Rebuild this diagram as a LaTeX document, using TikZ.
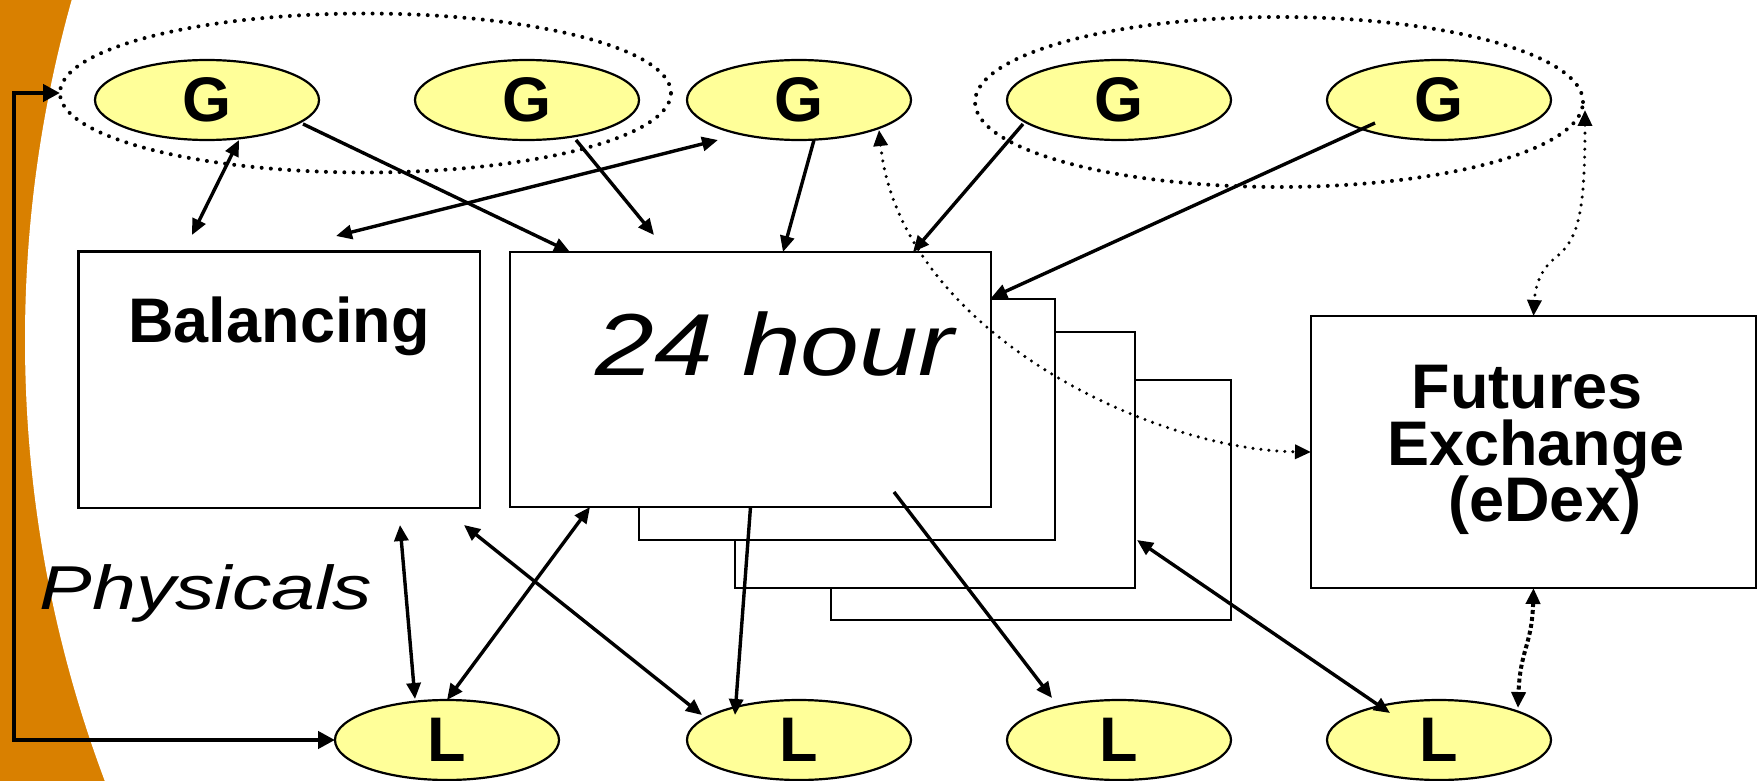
\documentclass[tikz,border=0pt]{standalone}
\usepackage{fontspec}
\setmainfont{Liberation Sans}
\usepackage{graphicx}
\usetikzlibrary{shapes.geometric,arrows.meta,calc}
\definecolor{bandorange}{RGB}{217,128,0}
\definecolor{nodeyellow}{RGB}{255,255,153}
\begin{document}
\begin{tikzpicture}[x=0.5pt,y=-0.5pt,
  gl/.style={ellipse, draw=black, line width=1.1pt, fill=nodeyellow, minimum width=112pt, minimum height=40pt, inner sep=0pt, outer sep=0pt, font=\fontsize{31.5}{36}\selectfont\bfseries},
  grp/.style={ellipse, draw=black, line width=2pt, dash pattern=on 0pt off 4.6pt, line cap=round, inner sep=0pt, outer sep=0pt},
  panel/.style={rectangle, draw=black, line width=1.2pt, fill=white, inner sep=0pt, outer sep=0pt},
  flow/.style={line width=1.7pt, -{Triangle[length=8pt,width=7pt]}},
  both/.style={line width=1.7pt, {Triangle[length=8pt,width=7pt]}-{Triangle[length=8pt,width=7pt]}},
  dotlink/.style={line width=1.7pt, dash pattern=on 0pt off 4pt, line cap=round, {Triangle[length=8pt,width=7pt]}-{Triangle[length=8pt,width=7pt]}},
  densedot/.style={line width=2pt, dash pattern=on 2pt off 1.5pt, {Triangle[length=8pt,width=7pt]}-{Triangle[length=8pt,width=7pt]}},
  bigarrow/.style={line width=2.3pt, {Triangle[length=8.5pt,width=8.5pt]}-{Triangle[length=8.5pt,width=8.5pt]}},
  boldtext/.style={anchor=base, font=\fontsize{31.5}{36}\selectfont\bfseries, inner sep=0pt}
]
\useasboundingbox (0,0) rectangle (1758,781);
% background band
\fill[bandorange] (0,0) rectangle (200,781);
\fill[white] (1278,340) circle[radius=626.5pt];

% group ellipses
\node[grp, minimum width=305.5pt, minimum height=79.5pt] (E1) at (365.5,93) {};
\node[grp, minimum width=304pt, minimum height=85pt] (E2) at (1279,102) {};

% stacked market boxes
\node[panel, minimum width=200pt, minimum height=120pt] (B4) at (1031,500) {};
\node[panel, minimum width=200pt, minimum height=128pt] (B3) at (935,460) {};
\node[panel, minimum width=208pt, minimum height=120.5pt] (B2) at (847,419.5) {};
\node[panel, minimum width=240.5pt, minimum height=127.5pt] (H) at (750.5,379.5) {};
\node[panel, minimum width=200.75pt, minimum height=128.25pt] (Bal) at (279.25,379.75) {};
\node[panel, minimum width=222.5pt, minimum height=136pt] (F) at (1533.5,452) {};

% texts in boxes
\node[boldtext] (baltext) at (279,343) {Balancing};
\node[anchor=base, font=\fontsize{44}{50}\selectfont\itshape, inner sep=0pt] (htext) at (774.5,375) {\scalebox{1.2}[1]{24 hour}};
\node[anchor=base, align=center, inner sep=0pt, font=\fontsize{31.5}{28.75}\selectfont\bfseries] (ftext) at (1536,521.7)
      {Futures\hspace*{0.278em}\\Exchange\\[-2.5pt]\hspace*{0.278em}(eDex)};
\node[anchor=base, font=\fontsize{31}{36}\selectfont\itshape, inner sep=0pt] (phys) at (206,609) {\scalebox{1.27}[1]{Physicals}};

% generators and loads
\node[gl] (G1) at (207,100) {G};
\node[gl] (G2) at (527,100) {G};
\node[gl] (G3) at (799,100) {G};
\node[gl] (G4) at (1119,100) {G};
\node[gl] (G5) at (1439,100) {G};
\node[gl] (L1) at (447,740) {L};
\node[gl] (L2) at (799,740) {L};
\node[gl] (L3) at (1119,740) {L};
\node[gl] (L4) at (1439,740) {L};

% free ends
\coordinate (c1) at (192,235);
\coordinate (c3) at (336,236);
\coordinate (c4) at (654,235);
\coordinate (c11) at (400,525);
\coordinate (c13) at (464,525);
\coordinate (c15) at (894,492);

% connectors
\draw[bigarrow] (E1.west) -- ($(E1.west)+(-46,0)$) |- (L1.west);
\draw[both] (c1) -- ($(G1)+(32,40)$);
\draw[flow] ($(G1)+(96,24)$) -- ($(H.north west)+(60,0)$);
\draw[both] (c3) -- ($(G3)+(-81,40)$);
\draw[flow] ($(G2)+(49,40)$) -- (c4);
\draw[flow] ($(G3)+(15,40)$) -- ($(H.north west)+(273,0)$);
\draw[flow] ($(G4)+(-96,24)$) -- ($(H.north west)+(403,0)$);
\draw[flow] ($(G5)+(-64,23)$) -- ($(H.north east)+(0,46)$);
\draw[dotlink] ($(G3)+(80,30)$) .. controls (900,330) and (1150,450) .. (F.west);
\draw[dotlink] ($(E2)+(306,8)$) .. controls (1585,215) and (1578,240) .. (1555,258) .. controls (1538,272) and (1535,290) .. (F.north);
\draw[densedot] (F.south) .. controls (1532,645) and (1520,650) .. ($(L4)+(79,-32)$);
\draw[both] (c11) -- ($(L1)+(-32,-41)$);
\draw[both] (L1.north) -- ($(H.south west)+(80,0)$);
\draw[both] (c13) -- ($(L2)+(-97,-25)$);
\draw[flow] (H.south) -- ($(L2)+(-64,-25)$);
\draw[flow] (c15) -- ($(L3)+(-67,-42)$);
\draw[both] ($(B3.east)+(2,80)$) -- ($(L4)+(-49,-27)$);
\end{tikzpicture}
\end{document}
